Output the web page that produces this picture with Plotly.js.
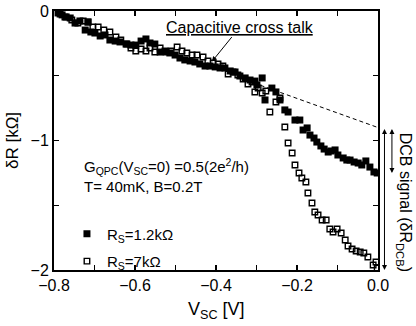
<!DOCTYPE html>
<html>
<head>
<meta charset="utf-8">
<script src="https://cdn.plot.ly/plotly-3.0.1.min.js"></script>
<style>
  html, body { margin: 0; padding: 0; background: #fff; }
  #chart { width: 416px; height: 326px; }
</style>
</head>
<body>
<div id="chart"></div>
<script>
// R_S = 1.2 kOhm (filled squares)
var vscLow = [-0.790,-0.780,-0.770,-0.760,-0.748,-0.736,-0.723,-0.716,-0.709,-0.699,
  -0.686,-0.674,-0.662,-0.649,-0.637,-0.622,-0.610,-0.598,-0.585,-0.573,
  -0.563,-0.551,-0.538,-0.526,-0.514,-0.501,-0.489,-0.477,-0.464,-0.452,
  -0.440,-0.427,-0.415,-0.402,-0.390,-0.378,-0.365,-0.353,-0.341,-0.328,
  -0.316,-0.304,-0.299,-0.286,-0.279,-0.262,-0.252,-0.242,-0.230,-0.222,
  -0.205,-0.193,-0.185,-0.175,-0.168,-0.158,-0.151,-0.141,-0.133,-0.123,
  -0.116,-0.106,-0.099,-0.086,-0.077,-0.069,-0.059,-0.049,-0.040,-0.030,
  -0.020,-0.010,-0.002];
var dRLow = [-0.015,-0.030,-0.046,-0.054,-0.093,-0.077,-0.147,-0.085,-0.162,-0.170,
  -0.193,-0.185,-0.224,-0.232,-0.239,-0.255,-0.263,-0.263,-0.232,-0.216,
  -0.247,-0.255,-0.317,-0.309,-0.324,-0.340,-0.363,-0.378,-0.386,-0.394,
  -0.409,-0.425,-0.425,-0.432,-0.440,-0.440,-0.463,-0.471,-0.502,-0.517,
  -0.533,-0.541,-0.571,-0.517,-0.687,-0.595,-0.625,-0.687,-0.764,-0.780,
  -0.842,-0.842,-0.919,-0.903,-0.958,-0.981,-1.012,-1.042,-1.066,-1.089,
  -1.081,-1.073,-1.112,-1.135,-1.151,-1.151,-1.166,-1.174,-1.189,-1.158,
  -1.205,-1.243,-1.251];

// R_S = 7 kOhm (open squares)
var vscHigh = [-0.785,-0.773,-0.756,-0.741,-0.728,-0.716,-0.704,-0.691,-0.677,-0.662,
  -0.647,-0.635,-0.620,-0.610,-0.598,-0.585,-0.573,-0.563,-0.551,-0.538,
  -0.523,-0.511,-0.496,-0.484,-0.472,-0.459,-0.447,-0.432,-0.420,-0.407,
  -0.395,-0.383,-0.370,-0.358,-0.346,-0.333,-0.321,-0.311,-0.304,-0.296,
  -0.286,-0.277,-0.267,-0.252,-0.242,-0.230,-0.222,-0.212,-0.205,-0.195,
  -0.188,-0.178,-0.173,-0.163,-0.156,-0.148,-0.138,-0.128,-0.119,-0.111,
  -0.101,-0.091,-0.081,-0.074,-0.064,-0.054,-0.044,-0.035,-0.025,-0.012,
  -0.005,-0.002];
var dRHigh = [-0.023,-0.046,-0.069,-0.093,-0.077,-0.085,-0.124,-0.124,-0.147,-0.162,
  -0.201,-0.224,-0.255,-0.286,-0.309,-0.293,-0.309,-0.286,-0.317,-0.286,
  -0.317,-0.309,-0.278,-0.309,-0.324,-0.340,-0.340,-0.355,-0.386,-0.402,
  -0.409,-0.425,-0.486,-0.471,-0.494,-0.525,-0.564,-0.548,-0.625,-0.595,
  -0.633,-0.618,-0.780,-0.703,-0.672,-0.896,-1.019,-1.097,-1.189,-1.251,
  -1.290,-1.320,-1.405,-1.483,-1.552,-1.575,-1.614,-1.614,-1.683,-1.707,
  -1.683,-1.714,-1.768,-1.815,-1.838,-1.853,-1.861,-1.869,-1.900,-1.961,
  -1.938,-1.985];

// extrapolated cross-talk background
var guideX = [-0.29, 0.0];
var guideY = [-0.574, -0.9];

var font = "Liberation Sans, Arial, sans-serif";

var filled = {
  x: vscLow, y: dRLow, type: "scatter", mode: "markers",
  name: "R<sub>S</sub>=1.2kΩ", legendgroup: "a",
  marker: {symbol: "square", size: 7, color: "#000", line: {width: 0}}
};
var open = {
  x: vscHigh, y: dRHigh, type: "scatter", mode: "markers",
  name: "R<sub>S</sub>=7kΩ", legendgroup: "b",
  marker: {symbol: "square-open", size: 5.5, color: "#000", line: {width: 1.4, color: "#000"}}
};
var guide = {
  x: guideX, y: guideY, type: "scatter", mode: "lines",
  line: {color: "#000", width: 1, dash: "4px,3px"}, showlegend: false, hoverinfo: "skip"
};

var layout = {
  width: 416, height: 326,
  margin: {l: 54, r: 38, t: 11, b: 56},
  paper_bgcolor: "#fff", plot_bgcolor: "#fff",
  font: {family: font, size: 16, color: "#000"},
  showlegend: true,
  legend: {x: 0.04, y: 0.203, xanchor: "left", yanchor: "top", bgcolor: "rgba(0,0,0,0)",
    font: {size: 15}, traceorder: "grouped", tracegroupgap: 5, itemwidth: 30},
  xaxis: {
    range: [-0.8, 0.0], dtick: 0.2, tick0: 0, tickformat: ".1f",
    ticks: "inside", ticklen: 5, tickwidth: 1.2, tickcolor: "#000",
    minor: {dtick: 0.1, ticks: "inside", ticklen: 5, tickwidth: 1.2, tickcolor: "#000"},
    showline: true, linewidth: 2, linecolor: "#000", mirror: "ticks",
    showgrid: false, zeroline: false,
    tickfont: {size: 16}
  },
  yaxis: {
    range: [-2, 0], dtick: 1, tick0: 0,
    ticks: "inside", ticklen: 5, tickwidth: 1.2, tickcolor: "#000",
    minor: {dtick: 0.5, ticks: "inside", ticklen: 5, tickwidth: 1.2, tickcolor: "#000"},
    showline: true, linewidth: 2, linecolor: "#000", mirror: "ticks",
    showgrid: false, zeroline: false,
    tickfont: {size: 16},
    title: {text: "δR [kΩ]", font: {size: 17}, standoff: 8}
  },
  annotations: [
    {x: 0.5, y: -0.155, xref: "paper", yref: "paper", xanchor: "center", yanchor: "middle",
     text: "V<sub>SC</sub> [V]", showarrow: false, font: {size: 18}},
    {x: -0.41, y: -0.39, xref: "x", yref: "y", ax: -0.341, ay: -0.124, axref: "x", ayref: "y",
     text: "<u>Capacitive cross talk</u>", showarrow: true, arrowhead: 2, arrowsize: 1,
     arrowwidth: 1, arrowcolor: "#000", font: {size: 16}},
    {x: 0.085, y: 0.4, xref: "paper", yref: "paper", xanchor: "left", yanchor: "middle",
     text: "G<sub>QPC</sub>(V<sub>SC</sub>=0) =0.5(2e<sup>2</sup>/h)", showarrow: false, font: {size: 15}},
    {x: 0.085, y: 0.322, xref: "paper", yref: "paper", xanchor: "left", yanchor: "middle",
     text: "T= 40mK, B=0.2T", showarrow: false, font: {size: 15}},
    {x: 1.02, y: -2.0, xref: "paper", yref: "y", ax: 0, ay: -0.9, ayref: "y",
     text: "", showarrow: true, arrowhead: 2, startarrowhead: 2, arrowside: "end+start",
     arrowsize: 1, arrowwidth: 1, arrowcolor: "#000"},
    {x: 1.043, y: -1.25, xref: "paper", yref: "y", ax: 0, ay: -0.9, ayref: "y",
     text: "", showarrow: true, arrowhead: 2, startarrowhead: 2, arrowside: "end+start",
     arrowsize: 1, arrowwidth: 1, arrowcolor: "#000"},
    {x: 1.08, y: -1.48, xref: "paper", yref: "y", xanchor: "center", yanchor: "middle",
     text: "DCB signal (δR<sub>DCB</sub>)", textangle: 90, showarrow: false, font: {size: 16}}
  ]
};

Plotly.newPlot("chart", [guide, filled, open], layout, {displayModeBar: false, staticPlot: true});
</script>
</body>
</html>
